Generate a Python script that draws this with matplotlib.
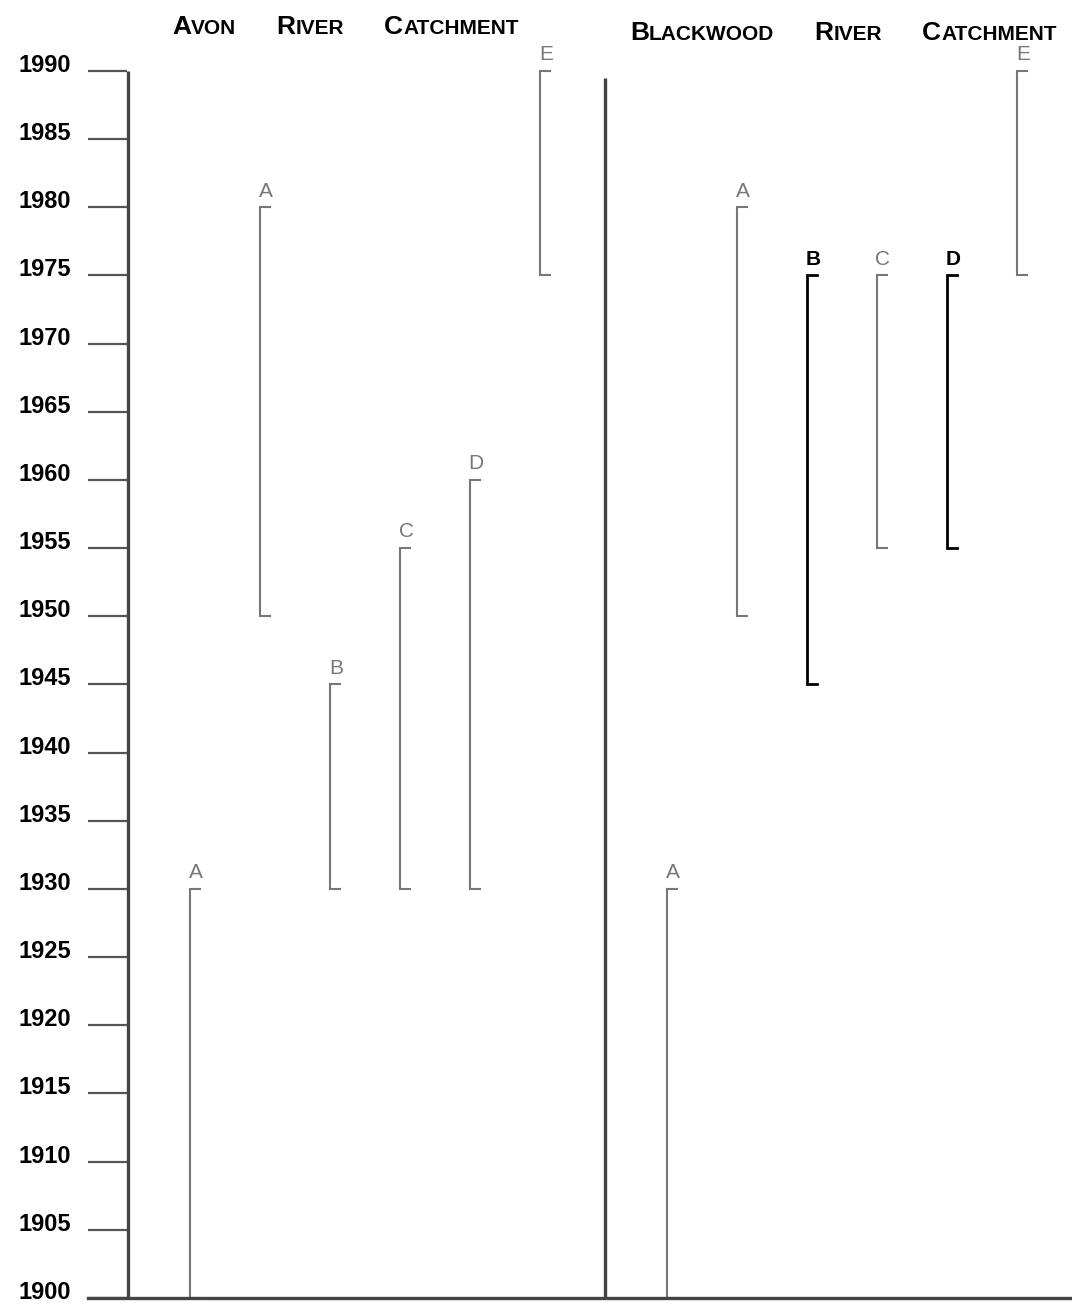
import matplotlib.pyplot as plt
from matplotlib.offsetbox import TextArea, HPacker, AnnotationBbox
from matplotlib.transforms import ScaledTranslation

plt.rcParams['font.family'] = ['Liberation Sans', 'DejaVu Sans']

# года (ось Y)
years = list(range(1900, 1991, 5))

# Avon River Catchment
avon_labels = ['A', 'A', 'B', 'C', 'D', 'E']
avon_start = [1900, 1950, 1930, 1930, 1930, 1975]
avon_end = [1930, 1980, 1945, 1955, 1960, 1990]

# Blackwood River Catchment
bw_labels = ['A', 'A', 'B', 'C', 'D', 'E']
bw_start = [1900, 1950, 1945, 1955, 1955, 1975]
bw_end = [1930, 1980, 1975, 1975, 1975, 1990]
bw_dark = [False, False, True, False, True, False]

W, H = 1072, 1305
fig = plt.figure(figsize=(W / 100, H / 100), dpi=100)
ax = fig.add_axes([88 / W, 7 / H, (W - 88) / W, 1227 / H])
ax.set_xlim(88, W)
ax.set_ylim(1900, 1990)

for s in ['left', 'top', 'right']:
    ax.spines[s].set_visible(False)
ax.spines['bottom'].set_linewidth(2.4)
ax.spines['bottom'].set_color('#444444')
ax.set_xticks([])
ax.set_yticks(years)
ax.set_yticklabels([str(y) for y in years], fontsize=17, fontweight='bold')
ax.tick_params(axis='y', direction='in', length=28, width=1.6, color='#555555', pad=12)
# подписи чуть выше рисок, как в оригинале
up = ScaledTranslation(0, 8 / 100, fig.dpi_scale_trans)
for lbl in ax.get_yticklabels():
    lbl.set_transform(lbl.get_transform() + up)

# вертикальные оси двух панелей
avon_x0 = 128
bw_x0 = 605
ax.vlines(avon_x0, 1900, 1990, color='#444444', lw=2.4)
ax.vlines(bw_x0, 1900, 1989.5, color='#444444', lw=2.4)

step = 70
first = 62


def draw_panel(x0, labels, starts, ends, dark):
    for i, (lab, s, e, d) in enumerate(zip(labels, starts, ends, dark)):
        x = x0 + first + step * i
        col = 'black' if d else '#777777'
        lw = 2.0 if d else 1.5
        ax.plot([x + 10, x, x, x + 10], [e, e, s, s], color=col, lw=lw,
                solid_joinstyle='miter', clip_on=False)
        ax.text(x + 6, e + 0.5, lab, ha='center', va='bottom', fontsize=15,
                color=col, fontweight='bold' if d else 'normal')


draw_panel(avon_x0, avon_labels, avon_start, avon_end, [False] * 6)
draw_panel(bw_x0, bw_labels, bw_start, bw_end, bw_dark)


def small_caps(title, xy):
    words = []
    for w in title.split():
        words.append(HPacker(children=[
            TextArea(w[0], textprops=dict(fontsize=19, fontweight='bold')),
            TextArea(w[1:].upper(), textprops=dict(fontsize=15, fontweight='bold'))],
            sep=0, align='baseline', pad=0))
    box = HPacker(children=words, sep=29, align='baseline', pad=0)
    ab = AnnotationBbox(box, xy, xycoords='figure pixels', box_alignment=(0, 0.5),
                        frameon=False, pad=0)
    fig.add_artist(ab)


small_caps('Avon River Catchment', (172, H - 27))
small_caps('Blackwood River Catchment', (630, H - 33))

fig.savefig('out.png', dpi=100, facecolor='white')
